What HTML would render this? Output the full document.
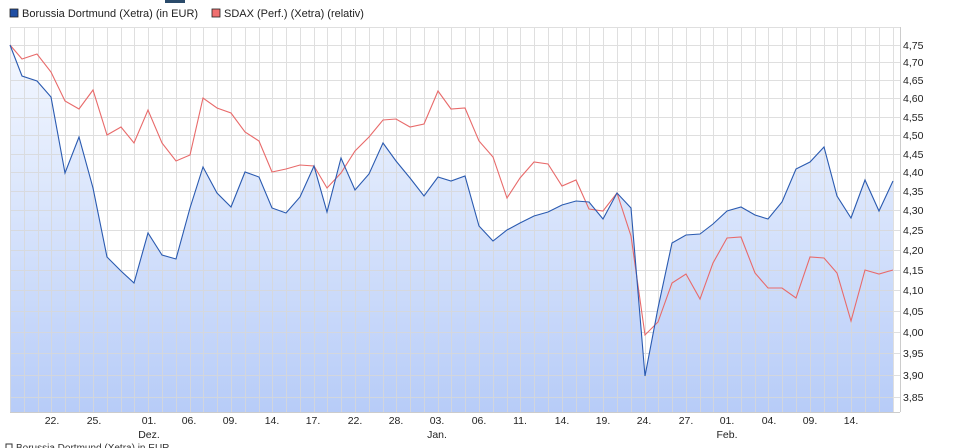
<!DOCTYPE html>
<html><head><meta charset="utf-8"><style>
html,body{margin:0;padding:0;background:#fff;}
svg{display:block;font-family:"Liberation Sans",sans-serif;}
</style></head><body>
<svg width="957" height="448" viewBox="0 0 957 448" xmlns="http://www.w3.org/2000/svg">
<defs>
<linearGradient id="g" x1="0" y1="0" x2="0" y2="1">
<stop offset="0" stop-color="#f4f8ff"/>
<stop offset="1" stop-color="#b7ccf8"/>
</linearGradient>
</defs>
<rect x="165" y="0" width="20" height="3" fill="#2a4a6a"/>
<rect x="10" y="9" width="8" height="8" fill="#1f4ea3" stroke="#222" stroke-width="0.8"/>
<text x="22" y="17" font-size="11" fill="#222">Borussia Dortmund (Xetra) (in EUR)</text>
<rect x="212" y="9" width="8" height="8" fill="#f07070" stroke="#222" stroke-width="0.8"/>
<text x="224" y="17" font-size="11" fill="#222">SDAX (Perf.) (Xetra) (relativ)</text>
<polygon fill="url(#g)" points="10,412 10,45 22,76 37,81 51,97 65,173 79,137 93,188 107,257 121,271 134,283 148,233 162,255 176,259 190,208 203,167 217,193 231,207 245,172 259,177 272,208 286,213 300,197 314,166 327,212 341,158 355,190 369,174 383,143 396,161 410,178 424,196 438,177 451,181 465,176 479,226 493,241 507,230 520,223 534,216 548,212 562,205 576,201 589,202 603,219 617,193 631,208 645,376 658,308 672,243 686,235 700,234 713,224 727,211 741,207 755,215 768,219 782,202 796,169 810,162 824,147 837,196 851,218 865,180 879,211 893,181 893,412"/>
<g stroke="#d8d8d8" stroke-width="1" opacity="0.8">
<path d="M10.5 27V412M24.5 27V412M38.5 27V412M51.5 27V412M65.5 27V412M79.5 27V412M93.5 27V412M107.5 27V412M121.5 27V412M134.5 27V412M148.5 27V412M162.5 27V412M176.5 27V412M190.5 27V412M203.5 27V412M217.5 27V412M231.5 27V412M245.5 27V412M259.5 27V412M272.5 27V412M286.5 27V412M300.5 27V412M314.5 27V412M327.5 27V412M341.5 27V412M355.5 27V412M369.5 27V412M383.5 27V412M396.5 27V412M410.5 27V412M424.5 27V412M438.5 27V412M451.5 27V412M465.5 27V412M479.5 27V412M493.5 27V412M507.5 27V412M520.5 27V412M534.5 27V412M548.5 27V412M562.5 27V412M576.5 27V412M589.5 27V412M603.5 27V412M617.5 27V412M631.5 27V412M645.5 27V412M658.5 27V412M672.5 27V412M686.5 27V412M700.5 27V412M713.5 27V412M727.5 27V412M741.5 27V412M755.5 27V412M768.5 27V412M782.5 27V412M796.5 27V412M810.5 27V412M824.5 27V412M837.5 27V412M851.5 27V412M865.5 27V412M879.5 27V412M893.5 27V412"/>
<path d="M10 27.5H900M10 45.5H900M10 62.5H900M10 80.5H900M10 98.5H900M10 117.5H900M10 135.5H900M10 154.5H900M10 172.5H900M10 191.5H900M10 210.5H900M10 230.5H900M10 250.5H900M10 270.5H900M10 290.5H900M10 311.5H900M10 332.5H900M10 353.5H900M10 375.5H900M10 397.5H900"/>
</g>
<path d="M900.5 27V412M10 412.5H900" stroke="#ccc" fill="none"/>
<polyline fill="none" stroke="#e86a6a" stroke-width="1.1" points="10,45 22,59 37,54 51,72 65,101 79,109 93,90 107,135 121,127 134,143 148,110 162,143 176,161 190,155 203,98 217,108 231,113 245,132 259,141 272,172 286,169 300,165 314,166 327,188 341,173 355,151 369,137 383,120 396,119 410,127 424,124 438,91 451,109 465,108 479,141 493,157 507,198 520,178 534,162 548,164 562,186 576,180 589,209 603,211 617,193 631,236 645,335 658,322 672,283 686,274 700,299 713,263 727,238 741,237 755,273 768,288 782,288 796,298 810,257 824,258 837,273 851,321 865,270 879,274 893,270"/>
<polyline fill="none" stroke="#2a5ab0" stroke-width="1.1" points="10,45 22,76 37,81 51,97 65,173 79,137 93,188 107,257 121,271 134,283 148,233 162,255 176,259 190,208 203,167 217,193 231,207 245,172 259,177 272,208 286,213 300,197 314,166 327,212 341,158 355,190 369,174 383,143 396,161 410,178 424,196 438,177 451,181 465,176 479,226 493,241 507,230 520,223 534,216 548,212 562,205 576,201 589,202 603,219 617,193 631,208 645,376 658,308 672,243 686,235 700,234 713,224 727,211 741,207 755,215 768,219 782,202 796,169 810,162 824,147 837,196 851,218 865,180 879,211 893,181"/>
<g font-size="10.5" fill="#222">
<text x="903" y="49">4,75</text><text x="903" y="66">4,70</text><text x="903" y="84">4,65</text><text x="903" y="102">4,60</text><text x="903" y="121">4,55</text><text x="903" y="139">4,50</text><text x="903" y="158">4,45</text><text x="903" y="176">4,40</text><text x="903" y="195">4,35</text><text x="903" y="214">4,30</text><text x="903" y="234">4,25</text><text x="903" y="254">4,20</text><text x="903" y="274">4,15</text><text x="903" y="294">4,10</text><text x="903" y="315">4,05</text><text x="903" y="336">4,00</text><text x="903" y="357">3,95</text><text x="903" y="379">3,90</text><text x="903" y="401">3,85</text>
</g>
<g font-size="10.5" fill="#222" text-anchor="middle">
<text x="52" y="424">22.</text><text x="94" y="424">25.</text><text x="149" y="424">01.</text><text x="189" y="424">06.</text><text x="230" y="424">09.</text><text x="272" y="424">14.</text><text x="313" y="424">17.</text><text x="355" y="424">22.</text><text x="396" y="424">28.</text><text x="437" y="424">03.</text><text x="479" y="424">06.</text><text x="520" y="424">11.</text><text x="562" y="424">14.</text><text x="603" y="424">19.</text><text x="644" y="424">24.</text><text x="686" y="424">27.</text><text x="727" y="424">01.</text><text x="769" y="424">04.</text><text x="810" y="424">09.</text><text x="851" y="424">14.</text>
<text x="149" y="438">Dez.</text><text x="437" y="438">Jan.</text><text x="727" y="438">Feb.</text>
</g>
<rect x="6" y="444" width="6" height="6" fill="none" stroke="#333"/>
<text x="16" y="451" font-size="10" fill="#333">Borussia Dortmund (Xetra) in EUR</text>
</svg>
</body></html>
